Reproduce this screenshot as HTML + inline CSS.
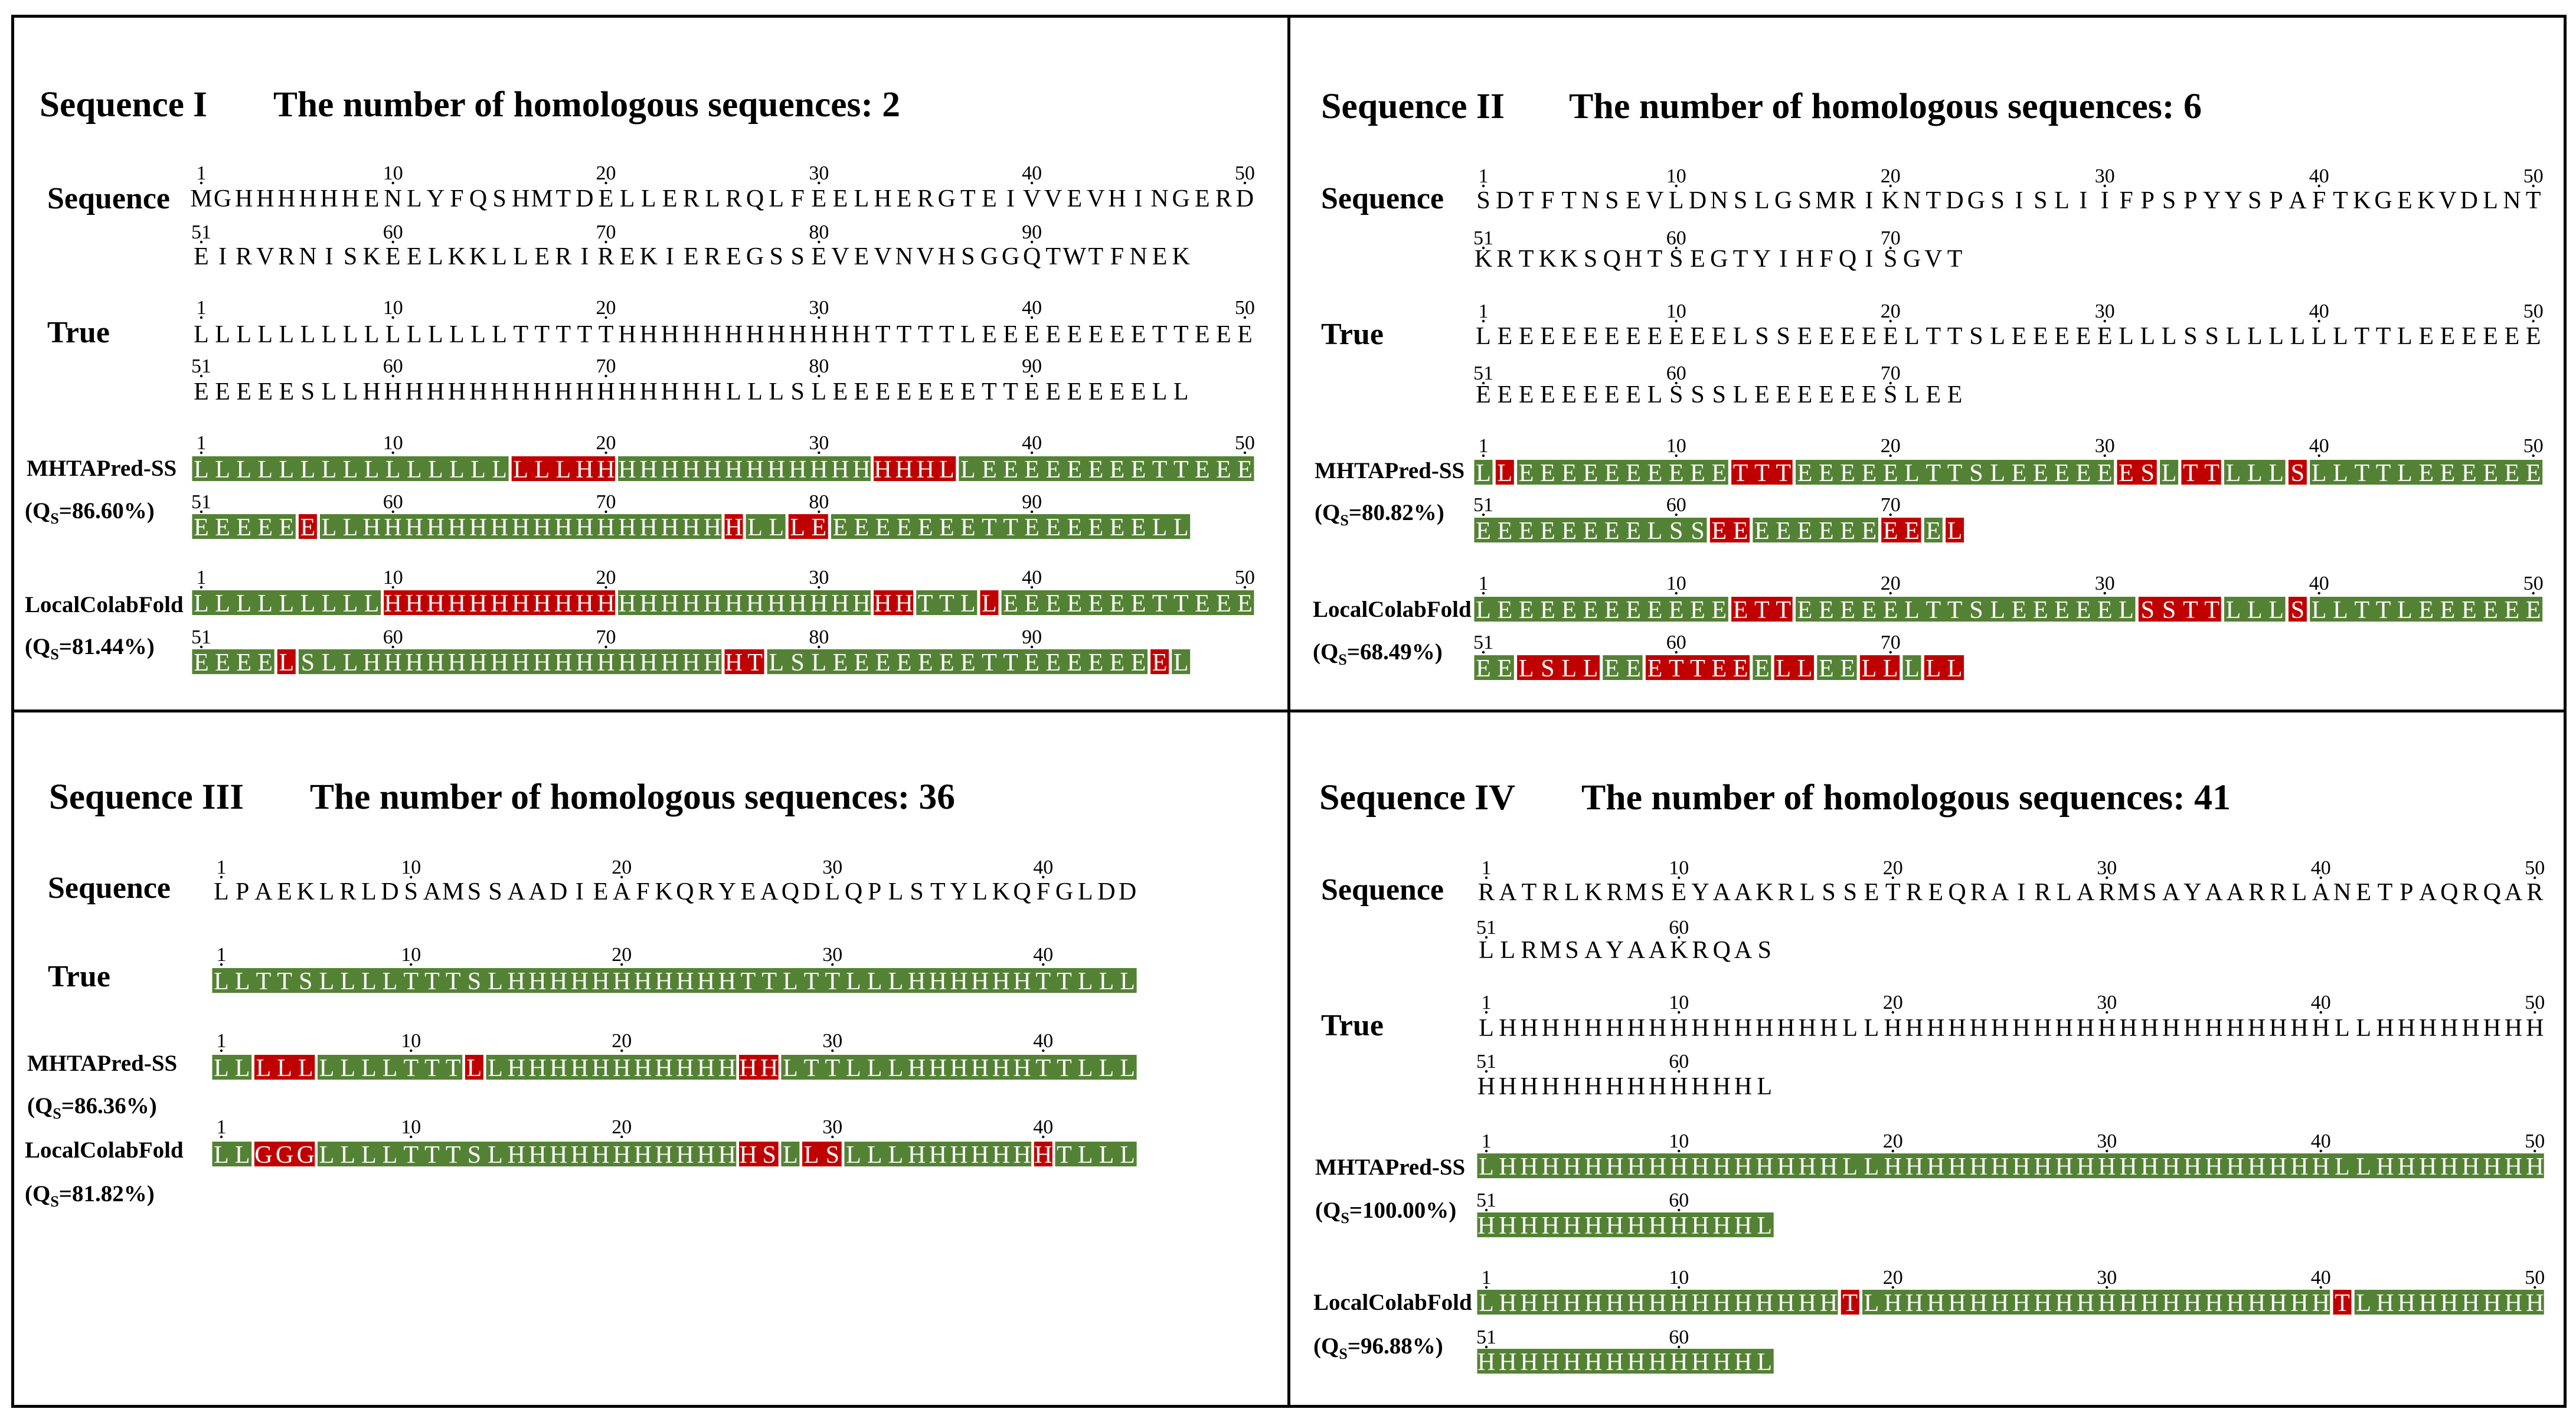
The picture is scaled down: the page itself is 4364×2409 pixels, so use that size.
<!DOCTYPE html>
<html><head><meta charset="utf-8"><title>Secondary structure prediction comparison</title>
<style>
html,body{margin:0;padding:0;background:#fff;}
svg{display:block;font-family:"Liberation Serif","DejaVu Serif",serif;}
</style></head>
<body>
<svg id="fig" xmlns="http://www.w3.org/2000/svg" width="4364" height="2409" viewBox="0 0 4364 2409">
<rect x="0" y="0" width="4364" height="2409" fill="#fff"/>
<g fill="#000">
<rect x="19" y="25" width="4329" height="5"/>
<rect x="19" y="2380" width="4329" height="5"/>
<rect x="19" y="25" width="5" height="2360"/>
<rect x="4343" y="25" width="5" height="2360"/>
<rect x="2181" y="25" width="5" height="2360"/>
<rect x="19" y="1202" width="4329" height="5"/>
</g>
<g id="content"></g>
</svg>
<script>
const GREEN = "#548235", RED = "#C00000";
const H = n => "H".repeat(n);

// ---- Panel I data ----
const p1Seq1 = "MGHHHHHHENLYFQSHMTDELLERLRQLFEELHERGTEIVVEVHINGERD";
const p1Seq2 = "EIRVRNISKEELKKLLERIREKIEREGSSEVEVNVHSGGQTWTFNEK";
const p1True1 = "LLLLLLLLLLLLLLLTTTTTHHHHHHHHHHHHTTTTLEEEEEEEETTEEE";
const p1True2 = "EEEEESLL" + H(17) + "LLLSLEEEEEEETTEEEEEELL";
const p1Mh1 = [["LLLLLLLLLLLLLLL",0],["LLLHH",1],["HHHHHHHHHHHH",0],["HHHL",1],["LEEEEEEEETTEEE",0]];
const p1Mh2 = [["EEEEE",0],["E",1],["LL"+H(17),0],["H",1],["LL",0],["LE",1],["EEEEEEETTEEEEEELL",0]];
const p1Lc1 = [["LLLLLLLLL",0],["HHHHHHHHHHH",1],["HHHHHHHHHHHH",0],["HH",1],["TTL",0],["L",1],["EEEEEEETTEEE",0]];
const p1Lc2 = [["EEEE",0],["L",1],["SLL"+H(17),0],["HT",1],["LSLEEEEEEETTEEEEEE",0],["E",1],["L",0]];

// ---- Panel II data ----
const p2Seq1 = "SDTFTNSEVLDNSLGSMRIKNTDGSISLIIFPSPYYSPAFTKGEKVDLNT";
const p2Seq2 = "KRTKKSQHTSEGTYIHFQISGVT";
const p2True1 = "LEEEEEEEEEEELSSEEEEELTTSLEEEEELLLSSLLLLLLTTLEEEEEE";
const p2True2 = "EEEEEEEELSSSLEEEEEESLEE";
const p2Mh1 = [["L",0],["L",1],["EEEEEEEEEE",0],["TTT",1],["EEEEELTTSLEEEEE",0],["ES",1],["L",0],["TT",1],["LLL",0],["S",1],["LLTTLEEEEEE",0]];
const p2Mh2 = [["EEEEEEEELSS",0],["EE",1],["EEEEEE",0],["EE",1],["E",0],["L",1]];
const p2Lc1 = [["LEEEEEEEEEEE",0],["ETT",1],["EEEEELTTSLEEEEEL",0],["SSTT",1],["LLL",0],["S",1],["LLTTLEEEEEE",0]];
const p2Lc2 = [["EE",0],["LSLL",1],["EE",0],["ETTEE",1],["E",0],["LL",1],["EE",0],["LL",1],["L",0],["LL",1]];

// ---- Panel III data ----
const p3Seq = "LPAEKLRLDSAMSSAADIEAFKQRYEAQDLQPLSTYLKQFGLDD";
const p3True = [["LLTTSLLLLTTTSLHHHHHHHHHHHTTLTTLLLHHHHHHTTLLL",0]];
const p3Mh = [["LL",0],["LLL",1],["LLLLTTT",0],["L",1],["LHHHHHHHHHHH",0],["HH",1],["LTTLLLHHHHHHTTLLL",0]];
const p3Lc = [["LL",0],["GGG",1],["LLLLTTTSLHHHHHHHHHHH",0],["HS",1],["L",0],["LS",1],["LLLHHHHHH",0],["H",1],["TLLL",0]];

// ---- Panel IV data ----
const p4Seq1 = "RATRLKRMSEYAAKRLSSETREQRAIRLARMSAYAARRLANETPAQRQAR";
const p4Seq2 = "LLRMSAYAAKRQAS";
const p4True1 = "L" + H(16) + "LL" + H(21) + "LL" + H(8);
const p4True2 = H(13) + "L";
const p4Lc1 = [["L"+H(16),0],["T",1],["L"+H(21),0],["T",1],["L"+H(8),0]];

const panels = [
 {key:"i", title:"Sequence I", tx:67, ty:197, tw:284, hx:463, hw:1062, ht:"The number of homologous sequences: 2",
  x0:341, p:36.08,
  labels:[["Sequence",80,353,"sequence"],["True",80,580,"true"],["MHTAPred-SS",45,806,"mhtapred"],["LocalColabFold",42,1037,"localcolabfold"]],
  qs:[[42,878,"86.60"],[42,1108,"81.44"]],
  rows:[[1,[[p1Seq1,-1]],304,350],[51,[[p1Seq2,-1]],404,448],[1,[[p1True1,-1]],532,580],[51,[[p1True2,-1]],631,677],
        [1,p1Mh1,761,809],[51,p1Mh2,861,907],[1,p1Lc1,989,1036],[51,p1Lc2,1090,1136]]},
 {key:"ii", title:"Sequence II", tx:2238, ty:200, tw:311, hx:2658, hw:1072, ht:"The number of homologous sequences: 6",
  x0:2513, p:36.3,
  labels:[["Sequence",2238,353,"sequence"],["True",2238,583,"true"],["MHTAPred-SS",2227,810,"mhtapred"],["LocalColabFold",2224,1045,"localcolabfold"]],
  qs:[[2227,881,"80.82"],[2224,1117,"68.49"]],
  rows:[[1,[[p2Seq1,-1]],309,353],[51,[[p2Seq2,-1]],414,452],[1,[[p2True1,-1]],538,583],[51,[[p2True2,-1]],643,682],
        [1,p2Mh1,766,815],[51,p2Mh2,866,913],[1,p2Lc1,999,1047],[51,p2Lc2,1099,1146]]},
 {key:"iii", title:"Sequence III", tx:83, ty:1370, tw:330, hx:525, hw:1093, ht:"The number of homologous sequences: 36",
  x0:375, p:35.7,
  labels:[["Sequence",81,1521,"sequence"],["True",81,1671,"true"],["MHTAPred-SS",46,1814,"mhtapred"],["LocalColabFold",42,1961,"localcolabfold"]],
  qs:[[46,1886,"86.36"],[42,2035,"81.82"]],
  rows:[[1,[[p3Seq,-1]],1480,1524],[1,p3True,1628,1676],[1,p3Mh,1774,1823],[1,p3Lc,1920,1970]]},
 {key:"iv", title:"Sequence IV", tx:2235, ty:1371, tw:332, hx:2679, hw:1100, ht:"The number of homologous sequences: 41",
  x0:2518, p:36.25,
  labels:[["Sequence",2238,1524,"sequence"],["True",2238,1754,"true"],["MHTAPred-SS",2228,1990,"mhtapred"],["LocalColabFold",2225,2219,"localcolabfold"]],
  qs:[[2228,2063,"100.00"],[2225,2293,"96.88"]],
  rows:[[1,[[p4Seq1,-1]],1481,1525],[51,[[p4Seq2,-1]],1582,1623],[1,[[p4True1,-1]],1709,1755],[51,[[p4True2,-1]],1809,1854],
        [1,[[p4True1,0]],1944,1990],[51,[[p4True2,0]],2044,2090],[1,p4Lc1,2175,2221],[51,[[p4True2,0]],2276,2321]]}
];

const NS = "http://www.w3.org/2000/svg";
const root = document.getElementById("content");
function mk(tag, attrs, parent){
  const e = document.createElementNS(NS, tag);
  for (const k in attrs) e.setAttribute(k, attrs[k]);
  parent.appendChild(e);
  return e;
}

panels.forEach(P => {
  const g = mk("g", {}, root);
  
  

  const t1 = mk("text", {x:P.tx, y:P.ty, "font-size":61, "font-weight":"bold", textLength:P.tw, lengthAdjust:"spacingAndGlyphs"}, g);
  t1.textContent = P.title;
  
  
  const t2 = mk("text", {x:P.hx, y:P.ty, "font-size":61, "font-weight":"bold", textLength:P.hw, lengthAdjust:"spacingAndGlyphs"}, g);
  t2.textContent = P.ht;
  
  

  P.labels.forEach(L => {
    const big = (L[0] === "Sequence" || L[0] === "True");
    const t = mk("text", {x:L[1], y:L[2], "font-size": big ? 52 : 39, "font-weight":"bold"}, g);
    t.textContent = L[0];
    
    
  });
  P.qs.forEach(Q => {
    const t = mk("text", {x:Q[0], y:Q[1], "font-size":39, "font-weight":"bold"}, g);
    
    
    const a = mk("tspan", {}, t); a.textContent = "(Q";
    const s = mk("tspan", {"font-size":26, dy:9}, t); s.textContent = "S";
    const b = mk("tspan", {dy:-9}, t); b.textContent = "=" + Q[2] + "%)";
  });

  P.rows.forEach(R => {
    const start = R[0], segs = R[1], ny = R[2], ly = R[3];
    const rg = mk("g", {}, g);
    
    
    const cx = i => P.x0 + i * P.p;
    let idx = 0;
    segs.forEach(S => {
      const str = S[0], kind = S[1];
      if (kind >= 0) {
        const x1 = cx(idx) - 15.5, x2 = cx(idx + str.length - 1) + 15.5;
        const r = mk("rect", {x:x1, y:ly - 36, width:x2 - x1, height:42, fill: kind === 1 ? RED : GREEN}, rg);
        
        
      }
      for (let j = 0; j < str.length; j++) {
        const t = mk("text", {x:cx(idx + j), y:ly, "font-size":42, "text-anchor":"middle", fill: kind >= 0 ? "#fff" : "#000"}, rg);
        t.textContent = str[j];
        
        
      }
      idx += str.length;
    });
    const n = idx, end = start + n - 1;
    const ticks = [start];
    for (let v = Math.ceil((start + 1) / 10) * 10; v <= end; v += 10) ticks.push(v);
    ticks.forEach(v => {
      const x = cx(v - start);
      const t = mk("text", {x:x, y:ny, "font-size":34, "text-anchor":"middle"}, rg);
      t.textContent = String(v);
      
      
      const d = mk("circle", {cx:x, cy:ny + 6, r:2.2, fill:"#000"}, rg);
      
      
    });
  });
});
</script>
</body></html>
